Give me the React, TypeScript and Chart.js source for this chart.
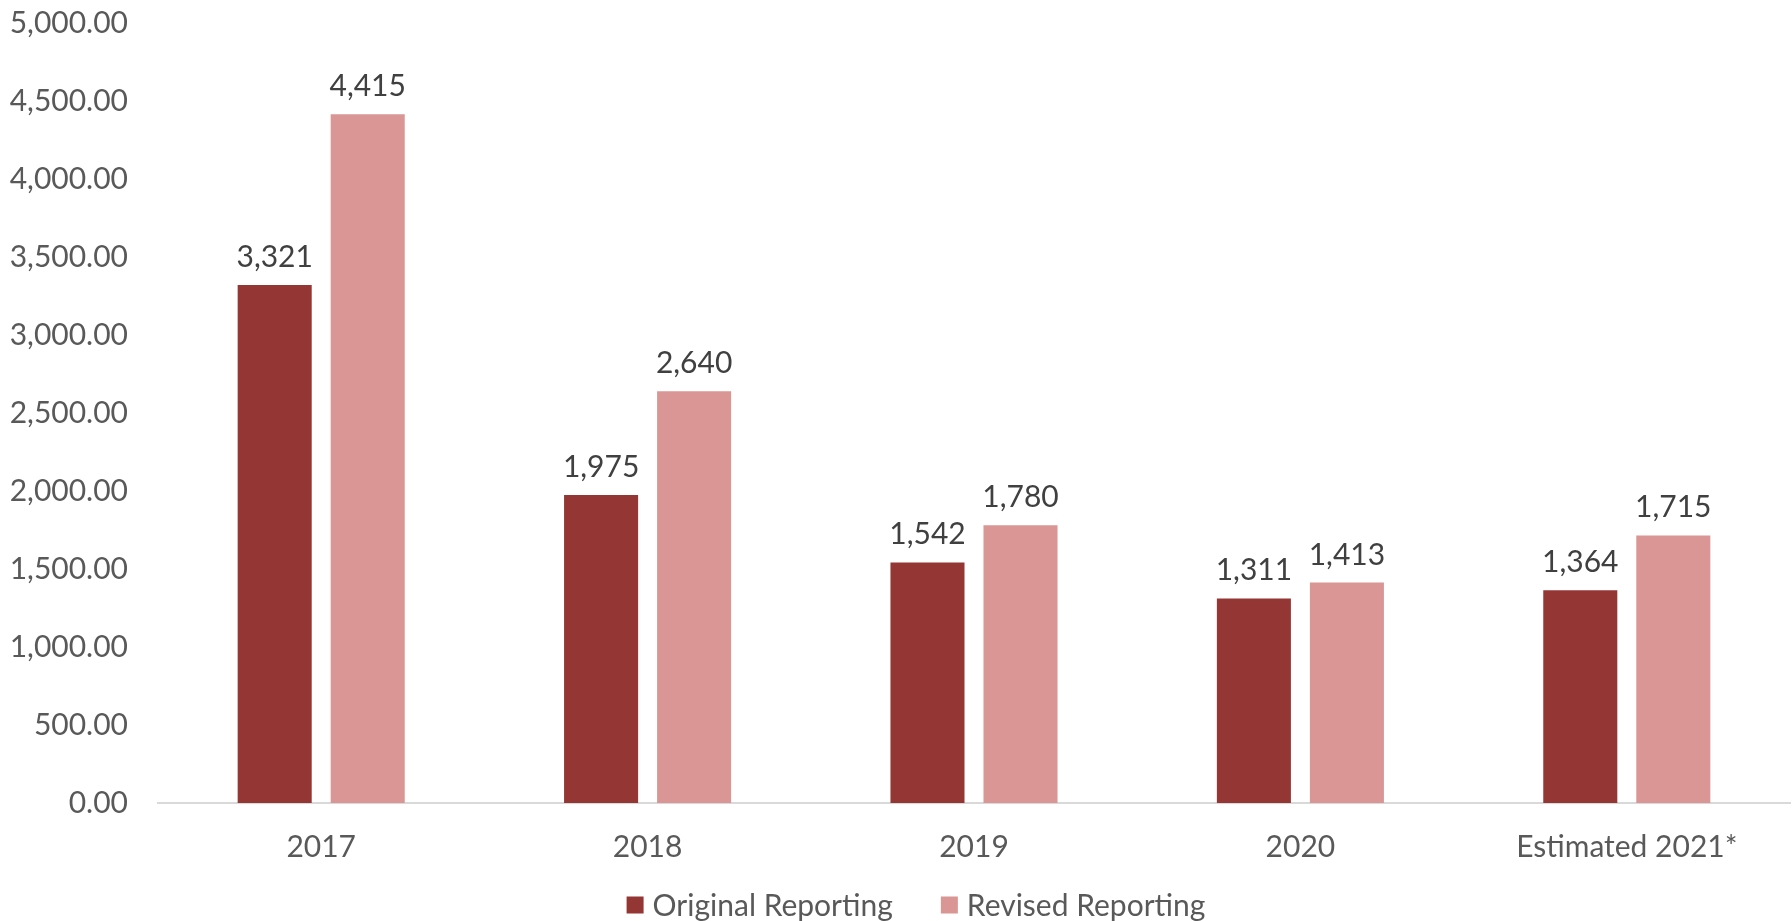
import React, { useEffect, useRef } from "react";
import { Chart, registerables } from "chart.js";

Chart.register(...registerables);

const categories = ["2017", "2018", "2019", "2020", "Estimated 2021*"];
const originalReporting = [3321, 1975, 1542, 1311, 1364];
const revisedReporting = [4415, 2640, 1780, 1413, 1715];
const seriesNames = ["Original Reporting", "Revised Reporting"];
const seriesColors = ["#943634", "#D99694"];
const yMax = 5000;
const yStep = 500;

const FONT = "Lato, 'Open Sans', sans-serif";
const FS = 30;

const dataLabelPlugin = {
  id: "dataLabels",
  afterDatasetsDraw(chart: any) {
    const ctx = chart.ctx;
    ctx.save();
    ctx.font = `${FS}px ${FONT}`;
    ctx.fillStyle = "#404040";
    ctx.textAlign = "center";
    ctx.textBaseline = "alphabetic";
    chart.data.datasets.forEach((ds: any, di: number) => {
      const meta = chart.getDatasetMeta(di);
      meta.data.forEach((el: any, i: number) => {
        const v = ds.data[i] as number;
        ctx.fillText(v.toLocaleString("en-US"), el.x, el.y - 18);
      });
    });
    ctx.restore();
  },
};

// Bottom legend drawn on the canvas from the chart's datasets
const bottomLegendPlugin = {
  id: "bottomLegend",
  afterDraw(chart: any) {
    const ctx = chart.ctx;
    const box = 17;
    const gapText = 9;
    const gapItem = 48;
    const y = 905;
    ctx.save();
    ctx.font = `${FS}px ${FONT}`;
    ctx.textBaseline = "middle";
    ctx.textAlign = "left";
    const items = chart.data.datasets.map((ds: any) => ({
      text: ds.label as string,
      color: ds.backgroundColor as string,
      w: ctx.measureText(ds.label).width,
    }));
    const total =
      items.reduce((s: number, it: any) => s + box + gapText + it.w, 0) + gapItem * (items.length - 1);
    let x = chart.width / 2 + 20 - total / 2;
    items.forEach((it: any) => {
      ctx.fillStyle = it.color;
      ctx.fillRect(x, y - box / 2, box, box);
      ctx.fillStyle = "#595959";
      ctx.fillText(it.text, x + box + gapText, y + 1);
      x += box + gapText + it.w + gapItem;
    });
    ctx.restore();
  },
};

export default function App() {
  const ref = useRef<HTMLCanvasElement | null>(null);
  useEffect(() => {
    document.body.style.margin = "0";
    document.body.style.overflow = "hidden";
    const chart = new Chart(ref.current as HTMLCanvasElement, {
      type: "bar",
      data: {
        labels: categories,
        datasets: [
          {
            label: seriesNames[0],
            data: originalReporting,
            backgroundColor: seriesColors[0],
            categoryPercentage: 0.57,
            barPercentage: 0.796,
          },
          {
            label: seriesNames[1],
            data: revisedReporting,
            backgroundColor: seriesColors[1],
            categoryPercentage: 0.57,
            barPercentage: 0.796,
          },
        ],
      },
      options: {
        animation: false,
        responsive: false,
        maintainAspectRatio: false,
        layout: { padding: { top: 23, right: 2, left: 0, bottom: 30 } },
        plugins: {
          tooltip: { enabled: false },
          legend: { display: false },
        },
        scales: {
          x: {
            grid: { display: false, drawTicks: false },
            border: { display: true, color: "#D9D9D9", width: 2 },
            ticks: { color: "#595959", font: { family: FONT, size: FS }, padding: 26, maxRotation: 0 },
            afterFit(scale: any) {
              scale.paddingLeft = 0;
              scale.paddingRight = 0;
            },
          },
          y: {
            min: 0,
            max: yMax,
            grid: { display: false, drawTicks: false },
            border: { display: false },
            ticks: {
              stepSize: yStep,
              color: "#595959",
              font: { family: FONT, size: FS },
              padding: 30,
              callback: (v: any) =>
                Number(v).toLocaleString("en-US", { minimumFractionDigits: 2, maximumFractionDigits: 2 }),
            },
            afterFit(scale: any) {
              scale.width = 158;
              scale.paddingTop = 0;
              scale.paddingBottom = 0;
            },
          },
        },
      },
      plugins: [dataLabelPlugin, bottomLegendPlugin],
    });
    return () => chart.destroy();
  }, []);
  return (
    <div style={{ position: "absolute", left: 0, top: 0, width: 1792, height: 921 }}>
      <canvas ref={ref} width={1792} height={921} style={{ width: 1792, height: 921, display: "block" }} />
    </div>
  );
}
